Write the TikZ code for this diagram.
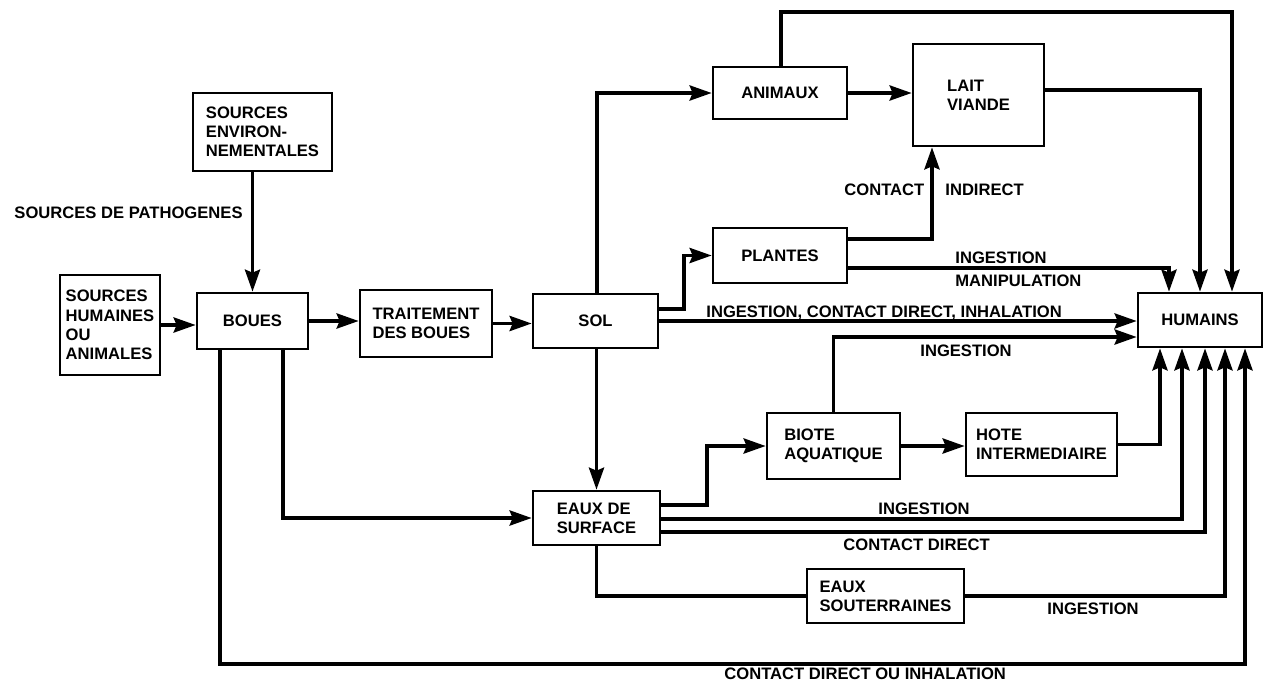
\documentclass[tikz,border=0pt]{standalone}
\usepackage{fontspec}
\setmainfont{Liberation Sans}
\usetikzlibrary{calc,arrows.meta}
\begin{document}
\begin{tikzpicture}[x=0.5pt,y=-0.5pt,
  txt/.style={font=\fontsize{8.3}{9.6}\selectfont\bfseries},
  box/.style={txt,draw,line width=1.3pt,inner sep=0pt,align=left},
  lbl/.style={txt,inner sep=0pt},
  wire/.style={line width=1.9pt},
  conn/.style={wire,-{Stealth[length=11pt,width=7.5pt,inset=1.5pt]}}
]
\useasboundingbox (0,0) rectangle (1264,681);
% boxes
\node[box,minimum width=69.5pt,minimum height=39pt] (env) at (262.5,132) {SOURCES\\ENVIRON-\\NEMENTALES};
\node[box,minimum width=50pt,minimum height=50pt] (sha) at (110,325) {SOURCES\\HUMAINES\\OU\\ANIMALES};
\node[box,minimum width=55.5pt,minimum height=28pt] (boues) at (252.5,321) {BOUES};
\node[box,minimum width=66pt,minimum height=33.5pt] (trait) at (426,323.5) {TRAITEMENT\\DES BOUES};
\node[box,minimum width=62.5pt,minimum height=27pt] (sol) at (595.5,321) {SOL};
\node[box,minimum width=67pt,minimum height=26pt] (anim) at (780,93) {ANIMAUX};
\node[box,minimum width=67pt,minimum height=27.5pt] (plantes) at (780,255.5) {PLANTES};
\node[box,minimum width=65.5pt,minimum height=51pt] (lait) at (978.5,95) {LAIT\\VIANDE};
\node[box,minimum width=62pt,minimum height=27pt] (hum) at (1200,320) {HUMAINS};
\node[box,minimum width=63.5pt,minimum height=27pt] (eds) at (596.5,518) {EAUX DE\\SURFACE};
\node[box,minimum width=66.5pt,minimum height=33pt] (biote) at (833.5,446) {BIOTE\\AQUATIQUE};
\node[box,minimum width=75.5pt,minimum height=31.5pt] (hote) at (1041.5,444.5) {HOTE\\INTERMEDIAIRE};
\node[box,minimum width=78.5pt,minimum height=27pt] (sout) at (885.5,596) {EAUX\\SOUTERRAINES};
% connectors
\draw[conn] (boues.north |- env.south) -- (boues.north);
\draw[conn] ($(sha.east)$) -- (sha.east -| boues.west);
\draw[conn] (boues.east) -- (boues.east -| trait.west);
\draw[conn] (trait.east) -- (trait.east -| sol.west);
\draw[conn] ($(sol.north)+(1.5,0)$) |- (anim.west);
\draw[conn] ($(sol.east)+(0,-12)$) -| ($(plantes.west)+(-28,0)$) -- (plantes.west);
\draw[conn] (sol.east) -- (sol.east -| hum.west);
\draw[conn] (eds.north |- sol.south) -- (eds.north);
\draw[conn] ($(boues.south)+(30.5,0)$) |- (eds.west);
\draw[conn] ($(boues.south)+(-32.5,0)$) -- ($(boues.south)+(-32.5,314)$) -| ($(hum.south)+(45,0)$);
\draw[conn] (anim.east) -- (anim.east -| lait.west);
\draw[conn] ($(anim.north)+(1,0)$) -- ($(anim.north)+(1,-54)$) -| ($(hum.north)+(32,0)$);
\draw[conn] ($(lait.east)+(0,-5)$) -| (hum.north);
\draw[conn] ($(plantes.east)+(0,-16.5)$) -| ($(lait.south)+(-46.5,0)$);
\draw[conn] ($(plantes.east)+(0,12.5)$) -| ($(hum.north)+(-31,0)$);
\draw[conn] (biote.north) |- ($(hum.west)+(0,17)$);
\draw[conn] (biote.east) -- (biote.east -| hote.west);
\draw[conn] (hote.east) -| ($(hum.south)+(-40,0)$);
\draw[conn] ($(eds.east)+(0,-13)$) -| ($(biote.west)+(-59,0)$) -- (biote.west);
\draw[conn] ($(eds.east)+(0,1)$) -| ($(hum.south)+(-18,0)$);
\draw[conn] ($(eds.east)+(0,14)$) -| ($(hum.south)+(5,0)$);
\draw[wire] (eds.south) |- (sout.west);
\draw[conn] (sout.east) -| ($(hum.south)+(25,0)$);
% labels
\node[lbl,anchor=base east] (lpath) at (243,218) {SOURCES DE PATHOGENES};
\node[lbl,anchor=base west] (lsolhum) at (706,317) {INGESTION, CONTACT DIRECT, INHALATION};
\node[lbl,anchor=base west] (lcontact) at (844,195) {CONTACT};
\node[lbl,anchor=base west] (lindirect) at (945,195) {INDIRECT};
\node[lbl,anchor=base west] (lplding) at (955,263) {INGESTION};
\node[lbl,anchor=base west] (lmanip) at (955,286) {MANIPULATION};
\node[lbl,anchor=base west] (lbiote) at (920,356) {INGESTION};
\node[lbl,anchor=base west] (ledsing) at (878,514) {INGESTION};
\node[lbl,anchor=base west] (ledscd) at (843,550) {CONTACT DIRECT};
\node[lbl,anchor=base west] (lsout) at (1047,614) {INGESTION};
\node[lbl,anchor=base west] (lbot) at (724,679) {CONTACT DIRECT OU INHALATION};
\end{tikzpicture}
\end{document}
